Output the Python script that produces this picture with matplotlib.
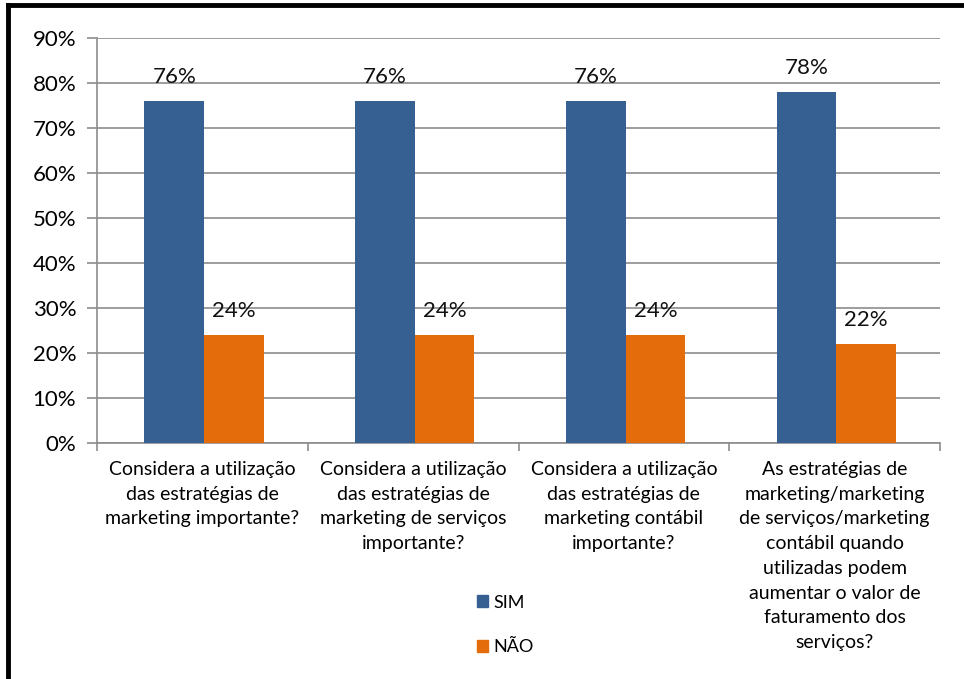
import matplotlib
matplotlib.use("Agg")
import matplotlib.pyplot as plt
import numpy as np
from matplotlib.ticker import FuncFormatter
from matplotlib.patches import Rectangle
from matplotlib.lines import Line2D

categories = [
    "Considera a utilização\ndas estratégias de\nmarketing importante?",
    "Considera a utilização\ndas estratégias de\nmarketing de serviços\nimportante?",
    "Considera a utilização\ndas estratégias de\nmarketing contábil\nimportante?",
    "As estratégias de\nmarketing/marketing\nde serviços/marketing\ncontábil quando\nutilizadas podem\naumentar o valor de\nfaturamento dos\nserviços?",
]
sim = [76, 76, 76, 78]
nao = [24, 24, 24, 22]
series_names = ["SIM", "NÃO"]
yticks = [0, 10, 20, 30, 40, 50, 60, 70, 80, 90]

blue = "#376092"
orange = "#E46C0A"
font = ["Lato", "DejaVu Sans"]
plt.rcParams["font.family"] = font

fig = plt.figure(figsize=(9.64, 6.79), dpi=100)
ax = fig.add_axes([97 / 964, 1 - 443 / 679, (940 - 97) / 964, (443 - 38) / 679])

x = np.arange(len(categories))
w = 0.283
b1 = ax.bar(x - w / 2 + 0.008, sim, w, color=blue, zorder=3)
b2 = ax.bar(x + w / 2 + 0.008, nao, w, color=orange, zorder=3)

for bars, vals in ((b1, sim), (b2, nao)):
    for r, v in zip(bars, vals):
        ax.text(r.get_x() + r.get_width() / 2, v + 3.2, f"{v}%",
                ha="center", va="bottom", fontsize=16, color="#111111")

ax.set_xlim(-0.5, len(categories) - 0.5)
ax.set_ylim(0, 90)
ax.set_yticks(yticks)
ax.yaxis.set_major_formatter(FuncFormatter(lambda v, p: f"{int(v)}%"))
ax.yaxis.grid(True, color="#8c8c8c", linewidth=1.2, zorder=0)
ax.set_axisbelow(True)

ax.set_xticks(np.arange(-0.5, len(categories)), minor=False)
ax.set_xticklabels([])
ax.set_xticks(x, minor=True)
ax.set_xticklabels(categories, minor=True, fontsize=14, va="top", linespacing=1.55)
ax.tick_params(axis="x", which="minor", length=0, pad=13)
ax.tick_params(axis="x", which="major", length=6, color="#8c8c8c", width=1.2)
ax.tick_params(axis="y", length=7, color="#8c8c8c", width=1.2, labelsize=16, pad=8)

for s in ("top", "right"):
    ax.spines[s].set_visible(False)
for s in ("left", "bottom"):
    ax.spines[s].set_color("#8c8c8c")
    ax.spines[s].set_linewidth(1.2)

handles = [Rectangle((0, 0), 1, 1, color=blue), Rectangle((0, 0), 1, 1, color=orange)]
fig.legend(handles, series_names, loc="center", bbox_to_anchor=(505 / 964, 1 - 625 / 679),
           frameon=False, fontsize=13, handlelength=0.6, handleheight=0.6,
           handletextpad=0.3, labelspacing=1.6)

# outer frame along the top and left edges
fig.add_artist(Line2D([8 / 964, 1.0], [1 - 5 / 679, 1 - 5 / 679], transform=fig.transFigure,
                      color="black", linewidth=3.5))
fig.add_artist(Line2D([8 / 964, 8 / 964], [1 - 5 / 679, 0], transform=fig.transFigure,
                      color="black", linewidth=3.5))

fig.savefig("out.png", dpi=100)
